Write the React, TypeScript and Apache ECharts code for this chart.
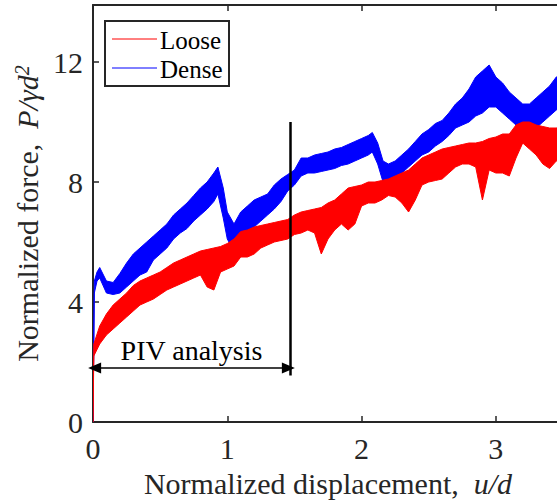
import React, { useEffect, useRef } from "react";
import * as echarts from "echarts";

// Normalized displacement u/d sample positions and band envelopes (low / high)
const denseX = [0, 0.01, 0.03, 0.05, 0.1, 0.15, 0.2, 0.25, 0.3, 0.35, 0.4, 0.45, 0.5, 0.55, 0.6, 0.65, 0.7, 0.75, 0.8, 0.85, 0.9, 0.93, 0.97, 1.0, 1.05, 1.1, 1.15, 1.2, 1.25, 1.3, 1.35, 1.4, 1.45, 1.5, 1.55, 1.6, 1.65, 1.7, 1.75, 1.8, 1.85, 1.9, 1.95, 2.0, 2.05, 2.08, 2.12, 2.16, 2.2, 2.25, 2.3, 2.35, 2.4, 2.45, 2.5, 2.55, 2.6, 2.65, 2.7, 2.75, 2.8, 2.85, 2.9, 2.95, 3.0, 3.05, 3.1, 3.15, 3.2, 3.25, 3.3, 3.35, 3.4, 3.45, 3.5];
const denseLo = [0, 4.3, 4.7, 4.8, 4.3, 4.25, 4.3, 4.5, 4.7, 4.9, 5.0, 5.4, 5.6, 5.8, 6.1, 6.3, 6.45, 6.7, 6.9, 7.1, 7.35, 7.6, 6.8, 6.1, 5.7, 6.0, 6.3, 6.5, 6.7, 6.9, 7.1, 7.35, 7.7, 7.9, 8.2, 8.3, 8.3, 8.35, 8.4, 8.45, 8.55, 8.6, 8.7, 8.8, 8.9, 9.0, 8.6, 8.0, 8.0, 8.1, 8.3, 8.5, 8.7, 8.9, 9.0, 9.2, 9.35, 9.55, 9.8, 9.9, 10.0, 10.2, 10.3, 10.5, 10.5, 10.3, 10.1, 9.9, 9.6, 9.4, 9.8, 10.0, 10.2, 10.4, 10.5];
const denseHi = [0, 4.7, 5.0, 5.15, 4.7, 4.65, 4.95, 5.3, 5.6, 5.8, 6.0, 6.2, 6.4, 6.6, 6.9, 7.1, 7.3, 7.55, 7.8, 8.0, 8.3, 8.5, 7.8, 7.0, 6.6, 7.0, 7.2, 7.4, 7.5, 7.6, 7.9, 8.1, 8.25, 8.4, 8.8, 8.8, 8.9, 8.95, 9.0, 9.1, 9.15, 9.25, 9.35, 9.45, 9.55, 9.65, 9.3, 8.7, 8.6, 8.7, 8.9, 9.1, 9.35, 9.6, 9.75, 9.95, 10.05, 10.3, 10.6, 10.8, 11.1, 11.5, 11.7, 11.9, 11.5, 11.3, 11.0, 10.8, 10.6, 10.6, 10.8, 11.0, 11.2, 11.5, 11.6];

const looseX = [0, 0.006, 0.05, 0.1, 0.15, 0.2, 0.25, 0.3, 0.35, 0.4, 0.45, 0.5, 0.55, 0.6, 0.65, 0.7, 0.75, 0.8, 0.85, 0.9, 0.95, 1.0, 1.05, 1.1, 1.15, 1.2, 1.25, 1.3, 1.35, 1.4, 1.45, 1.5, 1.55, 1.6, 1.65, 1.7, 1.75, 1.8, 1.85, 1.9, 1.95, 2.0, 2.05, 2.1, 2.15, 2.2, 2.25, 2.3, 2.35, 2.4, 2.45, 2.5, 2.55, 2.6, 2.65, 2.7, 2.75, 2.8, 2.85, 2.9, 2.95, 3.0, 3.05, 3.1, 3.15, 3.2, 3.25, 3.3, 3.35, 3.4, 3.45, 3.5];
const looseLo = [0, 2.2, 2.6, 2.9, 3.1, 3.3, 3.5, 3.7, 3.9, 4.0, 4.1, 4.25, 4.4, 4.5, 4.6, 4.7, 4.8, 4.9, 4.5, 4.4, 5.0, 5.1, 5.2, 5.5, 5.5, 5.6, 5.8, 5.9, 6.0, 6.05, 6.1, 6.25, 6.3, 6.4, 6.3, 5.6, 6.1, 6.4, 6.6, 6.4, 6.6, 7.2, 7.3, 7.3, 7.4, 7.55, 7.5, 7.3, 7.0, 7.4, 7.9, 8.0, 8.05, 8.1, 8.3, 8.5, 8.6, 8.6, 8.5, 7.4, 8.4, 8.3, 8.3, 8.2, 8.8, 9.3, 9.1, 8.9, 8.6, 8.45, 8.7, 8.8];
const looseHi = [0, 2.6, 3.2, 3.6, 3.9, 4.1, 4.3, 4.55, 4.7, 4.8, 4.9, 5.0, 5.15, 5.3, 5.4, 5.5, 5.6, 5.7, 5.75, 5.8, 5.85, 5.95, 6.1, 6.35, 6.4, 6.5, 6.55, 6.6, 6.65, 6.7, 6.75, 6.9, 7.0, 7.05, 7.1, 7.15, 7.3, 7.4, 7.6, 7.8, 7.85, 7.9, 8.0, 8.0, 8.05, 8.1, 8.2, 8.3, 8.4, 8.6, 8.8, 8.9, 9.0, 9.1, 9.15, 9.2, 9.25, 9.3, 9.3, 9.35, 9.45, 9.5, 9.6, 9.6, 9.9, 10.0, 10.0, 9.9, 9.85, 9.8, 9.8, 9.9];

const seriesNames = ["Loose", "Dense"];
const seriesColors = ["#ff0000", "#0000ff"];
const yTicks = [0, 4, 8, 12];
const xTicks = [0, 1, 2, 3];

// PIV analysis window annotation (in data units)
const pivEnd = 1.47;
const pivArrowY = 1.8;
const pivLineY = [1.55, 10];

const FONT = "Liberation Serif";
const AX = "#262626";

// One polygon per series: upper envelope left→right, then lower envelope right→left,
// every vertex placed through the chart's own coordinate system (api.coord).
function bandSeries(name: string, color: string, xs: number[], l: number[], h: number[], z: number) {
  const rows = xs.map((x, i) => [x, l[i], h[i]]);
  return {
    name,
    type: "custom",
    data: rows,
    encode: { x: 0, y: [1, 2] },
    clip: true,
    silent: true,
    z,
    renderItem: (params: any, api: any) => {
      if (params.dataIndex !== 0) return { type: "group", children: [] };
      const upper = rows.map((r) => api.coord([r[0], r[2]]));
      const lower = rows.map((r) => api.coord([r[0], r[1]])).reverse();
      return {
        type: "polygon",
        shape: { points: upper.concat(lower) },
        style: { fill: color, stroke: color, lineWidth: 1, lineJoin: "round" },
      };
    },
  };
}

export default function App() {
  const ref = useRef<HTMLDivElement>(null);
  useEffect(() => {
    if (!ref.current) return;
    const chart = echarts.init(ref.current, undefined, { renderer: "svg" });

    const axisCommon = {
      type: "value" as const,
      axisLine: { show: true, onZero: false, lineStyle: { color: AX, width: 2 } },
      axisTick: { show: true, inside: true, length: 6, lineStyle: { color: AX, width: 1.5 } },
      splitLine: { show: false },
    };

    chart.setOption({
      animation: false,
      grid: { left: 93, top: 5, right: 0, bottom: 78, containLabel: false },
      xAxis: [
        {
          ...axisCommon,
          min: xTicks[0],
          max: 3.5,
          interval: 1,
          position: "bottom",
          name: "{n|Normalized displacement,  }{i|u/d}",
          nameLocation: "middle",
          nameGap: 46,
          nameTextStyle: {
            color: AX,
            fontFamily: FONT,
            fontSize: 30,
            rich: {
              n: { fontFamily: FONT, fontSize: 30, color: AX },
              i: { fontFamily: FONT, fontSize: 30, color: AX, fontStyle: "italic" },
            },
          },
          axisLabel: {
            color: AX,
            fontFamily: FONT,
            fontSize: 30,
            margin: 11,
            showMaxLabel: false,
            formatter: (v: number) => (xTicks.includes(v) ? String(v) : ""),
          },
        },
        {
          ...axisCommon,
          min: xTicks[0],
          max: 3.5,
          interval: 1,
          position: "top",
          axisLabel: { show: false },
        },
      ],
      yAxis: [
        {
          ...axisCommon,
          min: yTicks[0],
          max: 13.9,
          interval: 4,
          position: "left",
          name: "{n|Normalized force,  }{i|P/γd}{s|2}",
          nameLocation: "middle",
          nameGap: 46,
          nameTextStyle: {
            color: AX,
            fontFamily: FONT,
            fontSize: 30,
            rich: {
              n: { fontFamily: FONT, fontSize: 30, color: AX },
              i: { fontFamily: FONT, fontSize: 30, color: AX, fontStyle: "italic" },
              s: { fontFamily: FONT, fontSize: 20, color: AX, fontStyle: "italic", verticalAlign: "top" },
            },
          },
          axisLabel: {
            color: AX,
            fontFamily: FONT,
            fontSize: 30,
            margin: 10,
            showMaxLabel: false,
            formatter: (v: number) => (yTicks.includes(v) ? String(v) : ""),
          },
        },
        {
          ...axisCommon,
          min: yTicks[0],
          max: 13.9,
          interval: 4,
          position: "right",
          axisLabel: { show: false },
        },
      ],
      series: [
        bandSeries(seriesNames[1], seriesColors[1], denseX, denseLo, denseHi, 2),
        bandSeries(seriesNames[0], seriesColors[0], looseX, looseLo, looseHi, 3),
        {
          name: "PIV analysis",
          type: "line",
          data: [],
          silent: true,
          z: 5,
          markLine: {
            silent: true,
            animation: false,
            symbol: ["none", "none"],
            data: [
              [
                { coord: [pivEnd, pivLineY[0]], symbol: "none", lineStyle: { color: "#000", width: 2.5, type: "solid" }, label: { show: false } },
                { coord: [pivEnd, pivLineY[1]], symbol: "none" },
              ],
              [
                {
                  coord: [0.012, pivArrowY],
                  symbol: "triangle",
                  symbolSize: [11, 13],
                  lineStyle: { color: "#000", width: 1.5, type: "solid" },
                  label: {
                    show: true,
                    position: "insideMiddleTop",
                    formatter: "PIV analysis",
                    color: "#000",
                    fontFamily: FONT,
                    fontSize: 28,
                    distance: 4,
                  },
                },
                { coord: [pivEnd - 0.015, pivArrowY], symbol: "triangle", symbolSize: [11, 13] },
              ],
            ],
          },
        },
      ],
      graphic: [
        {
          type: "rect",
          shape: { x: 105, y: 21, width: 124, height: 65 },
          style: { fill: "#fff", stroke: AX, lineWidth: 2 },
          z: 10,
        },
        { type: "line", shape: { x1: 112, y1: 39, x2: 157, y2: 39 }, style: { stroke: seriesColors[0], lineWidth: 1 }, z: 11 },
        { type: "line", shape: { x1: 112, y1: 68, x2: 157, y2: 68 }, style: { stroke: seriesColors[1], lineWidth: 1 }, z: 11 },
        {
          type: "text",
          x: 160,
          y: 40,
          style: { text: seriesNames[0], fontFamily: FONT, fontSize: 25, fill: "#000", verticalAlign: "middle", align: "left" },
          z: 11,
        },
        {
          type: "text",
          x: 160,
          y: 69,
          style: { text: seriesNames[1], fontFamily: FONT, fontSize: 25, fill: "#000", verticalAlign: "middle", align: "left" },
          z: 11,
        },
      ],
    });
    return () => chart.dispose();
  }, []);
  return (
    <div
      ref={ref}
      style={{ position: "fixed", left: 0, top: 0, width: 563, height: 503, background: "#fff" }}
    />
  );
}
